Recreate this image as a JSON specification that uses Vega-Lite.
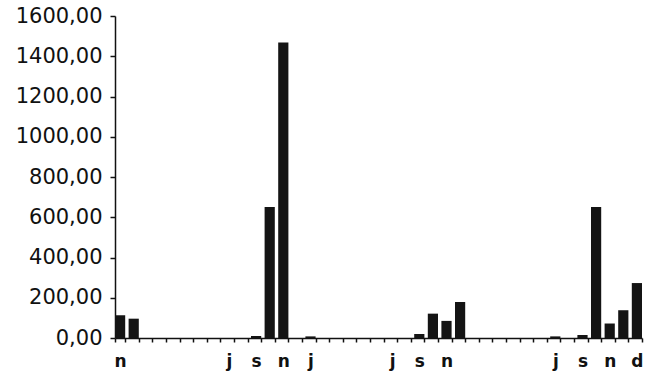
{
  "$schema": "https://vega.github.io/schema/vega-lite/v6.json",
  "autosize": {"type": "none"},
  "padding": {"left": 115, "top": 16, "right": 3, "bottom": 41},
  "width": 527,
  "height": 322,
  "background": "white",
  "data": {
    "values": [
      {"i": 0, "v": 113}, {"i": 1, "v": 96}, {"i": 2, "v": 0}, {"i": 3, "v": 0},
      {"i": 4, "v": 0}, {"i": 5, "v": 0}, {"i": 6, "v": 0}, {"i": 7, "v": 0},
      {"i": 8, "v": 0}, {"i": 9, "v": 0}, {"i": 10, "v": 10}, {"i": 11, "v": 651},
      {"i": 12, "v": 1468}, {"i": 13, "v": 0}, {"i": 14, "v": 8}, {"i": 15, "v": 0},
      {"i": 16, "v": 0}, {"i": 17, "v": 0}, {"i": 18, "v": 0}, {"i": 19, "v": 0},
      {"i": 20, "v": 0}, {"i": 21, "v": 0}, {"i": 22, "v": 20}, {"i": 23, "v": 121},
      {"i": 24, "v": 85}, {"i": 25, "v": 179}, {"i": 26, "v": 0}, {"i": 27, "v": 0},
      {"i": 28, "v": 0}, {"i": 29, "v": 0}, {"i": 30, "v": 0}, {"i": 31, "v": 0},
      {"i": 32, "v": 8}, {"i": 33, "v": 0}, {"i": 34, "v": 15}, {"i": 35, "v": 651},
      {"i": 36, "v": 72}, {"i": 37, "v": 138}, {"i": 38, "v": 273}
    ]
  },
  "mark": {"type": "bar", "color": "#141414"},
  "encoding": {
    "x": {
      "field": "i",
      "type": "ordinal",
      "sort": null,
      "scale": {"paddingInner": 0.25, "paddingOuter": 0},
      "axis": {
        "title": null,
        "labelAngle": 0,
        "labelExpr": "{'0':'n','8':'j','10':'s','12':'n','14':'j','20':'j','22':'s','24':'n','32':'j','34':'s','36':'n','38':'d'}[datum.label] || ''",
        "labelFont": "DejaVu Sans",
        "labelFontSize": 17,
        "labelFontWeight": "bold",
        "labelColor": "#111",
        "labelPadding": 11,
        "tickBand": "extent",
        "tickSize": 4,
        "tickWidth": 1.5,
        "tickColor": "#111",
        "domainColor": "#111",
        "domainWidth": 1.5
      }
    },
    "y": {
      "field": "v",
      "type": "quantitative",
      "scale": {"domain": [0, 1600], "nice": false},
      "axis": {
        "title": null,
        "values": [0, 200, 400, 600, 800, 1000, 1200, 1400, 1600],
        "labelExpr": "replace(format(datum.value, '.2f'), '.', ',')",
        "labelFont": "DejaVu Sans",
        "labelFontSize": 21,
        "labelColor": "#111",
        "labelPadding": 8,
        "tickSize": 5,
        "tickWidth": 1.5,
        "tickColor": "#111",
        "domainColor": "#111",
        "domainWidth": 1.5,
        "grid": false
      }
    }
  },
  "config": {"view": {"stroke": null}}
}
